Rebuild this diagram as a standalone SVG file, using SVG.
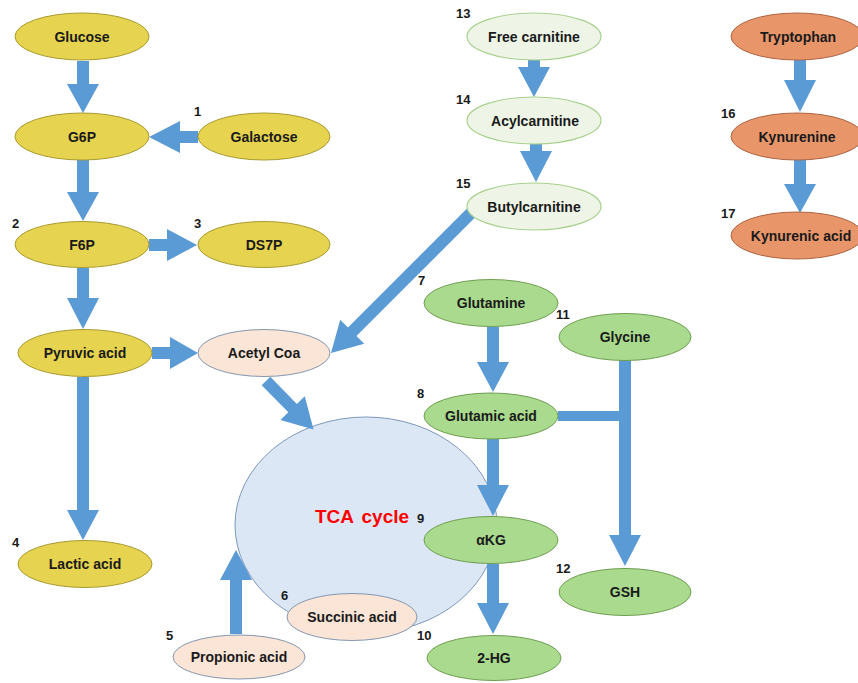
<svg xmlns="http://www.w3.org/2000/svg" width="858" height="683" viewBox="0 0 858 683">
<style>
text{font-family:"Liberation Sans",Arial,sans-serif;font-weight:bold;fill:#1a1a1a}
.lbl{font-size:14px;text-anchor:middle}
.num{font-size:13px}
.y{fill:#e6d350;stroke:#a89a2e;stroke-width:1}
.p{fill:#fbe5d6;stroke:#8497b0;stroke-width:1}
.o{fill:#e8956a;stroke:#ad6440;stroke-width:1}
.g{fill:#a9da8e;stroke:#6e9e50;stroke-width:1}
.lg{fill:#eef5e7;stroke:#a9d18e;stroke-width:1.2}
.tca{fill:#dbe7f5;stroke:#7e98bb;stroke-width:1}
.arr{fill:#5b9bd5}
</style>
<rect width="858" height="683" fill="#ffffff"/>

<g id="tca">
<ellipse class="tca" cx="366" cy="525" rx="131" ry="108"/>
<text x="362" y="523" style="font-size:19px;fill:#ff0000;text-anchor:middle;word-spacing:3px">TCA cycle</text>
</g>

<g id="connectors">
<path class="arr" d="M77,61 H89 V84 H99 L83,113 L67,84 H77 Z"/>
<path class="arr" d="M77,160 H89 V192 H99 L83,221 L67,192 H77 Z"/>
<path class="arr" d="M77,268 H89 V298 H99 L83,329 L67,298 H77 Z"/>
<path class="arr" d="M77,377 H89 V510 H99 L83,540 L67,510 H77 Z"/>
<path class="arr" d="M198,131 V143 H180 V153 L149,137 L180,121 V131 Z"/>
<path class="arr" d="M149,239 V251 H167 V261 L197,245 L167,229 V239 Z"/>
<path class="arr" d="M152,347 V359 H170 V369 L198,353 L170,337 V347 Z"/>
<path class="arr" d="M528,60 H540 V67 H550 L534,97 L518,67 H528 Z"/>
<path class="arr" d="M530,144 H542 V151 H552 L536,182 L520,151 H530 Z"/>
<path class="arr" d="M794,60 H806 V80 H816 L800,112 L784,80 H794 Z"/>
<path class="arr" d="M794,160 H806 V184 H816 L800,213 L784,184 H794 Z"/>
<path class="arr" d="M487,327 H499 V362 H509 L493,392 L477,362 H487 Z"/>
<path class="arr" d="M487,439 H499 V485 H509 L493,516 L477,485 H487 Z"/>
<path class="arr" d="M487,564 H499 V603 H509 L493,634 L477,603 H487 Z"/>
<path class="arr" d="M619,360 H631 V535 H641 L625,566 L609,535 H619 V421 H558 V411 H619 Z"/>
<path class="arr" d="M230,634 H242 V580 H252 L236,550 L220,580 H230 Z"/>
<path class="arr" transform="translate(471,213) rotate(135)" d="M0,-6 H168 V-17 L198,0 L168,17 V6 H0 Z"/>
<path class="arr" transform="translate(266,381) rotate(45.6)" d="M0,-6 H38 V-17 L68,0 L38,17 V6 H0 Z"/>
</g>

<g id="glucose"><ellipse class="y" cx="82" cy="36.5" rx="67" ry="23.5"/><text class="lbl" x="82" y="42">Glucose</text></g>
<g id="g6p"><ellipse class="y" cx="82" cy="136.5" rx="67" ry="23.5"/><text class="lbl" x="82" y="142">G6P</text></g>
<g id="galactose"><ellipse class="y" cx="264" cy="136.5" rx="66" ry="23.5"/><text class="lbl" x="264" y="142">Galactose</text></g>
<g id="f6p"><ellipse class="y" cx="82" cy="244.5" rx="67" ry="23"/><text class="lbl" x="82" y="250">F6P</text></g>
<g id="ds7p"><ellipse class="y" cx="264" cy="244.5" rx="66" ry="23"/><text class="lbl" x="264" y="250">DS7P</text></g>
<g id="pyruvic"><ellipse class="y" cx="85" cy="353" rx="67" ry="23.5"/><text class="lbl" x="85" y="358">Pyruvic acid</text></g>
<g id="acetylcoa"><ellipse class="p" cx="264" cy="353" rx="66" ry="23.5"/><text class="lbl" x="264" y="358">Acetyl Coa</text></g>
<g id="lactic"><ellipse class="y" cx="85" cy="564" rx="67" ry="23.5"/><text class="lbl" x="85" y="569">Lactic acid</text></g>
<g id="succinic"><ellipse class="p" cx="352" cy="617" rx="65" ry="23.5"/><text class="lbl" x="352" y="622">Succinic acid</text></g>
<g id="propionic"><ellipse class="p" cx="239" cy="657" rx="66" ry="22"/><text class="lbl" x="239" y="662">Propionic acid</text></g>
<g id="freecarnitine"><ellipse class="lg" cx="534" cy="36.5" rx="67" ry="23.5"/><text class="lbl" x="534" y="42">Free carnitine</text></g>
<g id="acylcarnitine"><ellipse class="lg" cx="534" cy="120.5" rx="67" ry="23.5"/><text class="lbl" x="535" y="126">Acylcarnitine</text></g>
<g id="butylcarnitine"><ellipse class="lg" cx="534" cy="206.5" rx="67" ry="23.5"/><text class="lbl" x="534" y="212">Butylcarnitine</text></g>
<g id="tryptophan"><ellipse class="o" cx="797" cy="36.5" rx="66" ry="23.5"/><text class="lbl" x="798" y="42">Tryptophan</text></g>
<g id="kynurenine"><ellipse class="o" cx="797" cy="136.5" rx="66" ry="23.5"/><text class="lbl" x="797" y="142">Kynurenine</text></g>
<g id="kynurenic"><ellipse class="o" cx="797" cy="235.5" rx="66" ry="23.5"/><text class="lbl" x="801" y="241">Kynurenic acid</text></g>
<g id="glutamine"><ellipse class="g" cx="491" cy="303" rx="67" ry="23.5"/><text class="lbl" x="491" y="308">Glutamine</text></g>
<g id="glycine"><ellipse class="g" cx="625" cy="337" rx="66" ry="23.5"/><text class="lbl" x="625" y="342">Glycine</text></g>
<g id="glutamic"><ellipse class="g" cx="491" cy="416" rx="67" ry="23"/><text class="lbl" x="491" y="421">Glutamic acid</text></g>
<g id="akg"><ellipse class="g" cx="491" cy="540" rx="67" ry="23.5"/><text class="lbl" x="491" y="545">αKG</text></g>
<g id="gsh"><ellipse class="g" cx="625" cy="592" rx="66" ry="23.5"/><text class="lbl" x="625" y="597">GSH</text></g>
<g id="twohg"><ellipse class="g" cx="494" cy="658" rx="67" ry="22.5"/><text class="lbl" x="494" y="663">2-HG</text></g>

<g id="numbers">
<text class="num" x="194" y="116">1</text>
<text class="num" x="12" y="228">2</text>
<text class="num" x="194" y="228">3</text>
<text class="num" x="12" y="547">4</text>
<text class="num" x="166" y="640">5</text>
<text class="num" x="281" y="600">6</text>
<text class="num" x="418" y="285">7</text>
<text class="num" x="417" y="398">8</text>
<text class="num" x="417" y="523">9</text>
<text class="num" x="417" y="640">10</text>
<text class="num" x="556" y="319">11</text>
<text class="num" x="556" y="573">12</text>
<text class="num" x="456" y="18">13</text>
<text class="num" x="456" y="104">14</text>
<text class="num" x="456" y="188">15</text>
<text class="num" x="721" y="118">16</text>
<text class="num" x="721" y="218">17</text>
</g>
</svg>
